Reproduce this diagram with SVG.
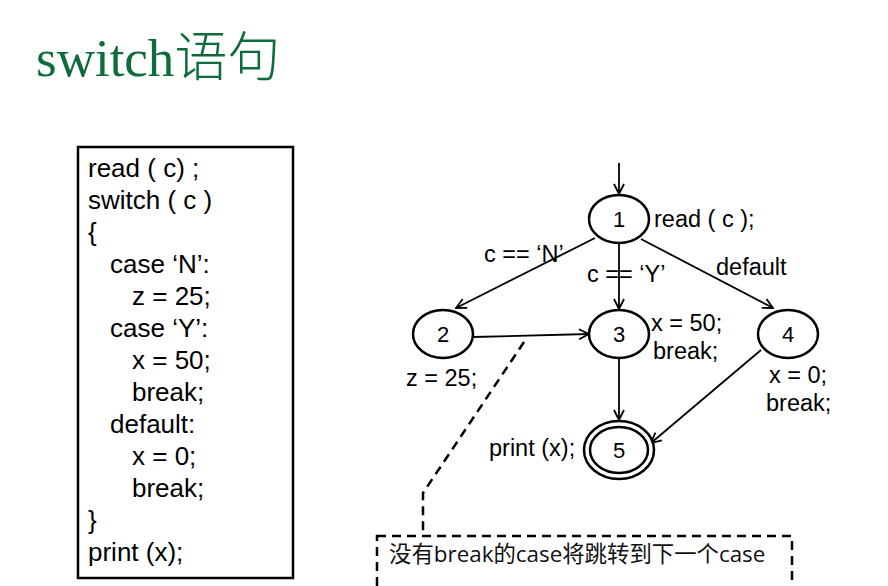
<svg xmlns="http://www.w3.org/2000/svg" width="888" height="586" viewBox="0 0 888 586">
<style>
.code{font-family:"Liberation Sans",Arial,sans-serif;font-size:26px;fill:#000}
.lbl{font-family:"Liberation Sans",Arial,sans-serif;font-size:23.5px;fill:#000}
.num{font-family:"Liberation Sans",Arial,sans-serif;font-size:22px;fill:#000;text-anchor:middle}
.node{fill:#fff;stroke:#000;stroke-width:2.5}
.edge{stroke:#000;stroke-width:1.8;fill:none;marker-end:url(#arr)}
.dash{stroke:#000;stroke-width:2.5;fill:none;stroke-dasharray:9,6}
</style>
<defs>
<marker id="arr" viewBox="0 0 12 12" refX="11" refY="6" markerWidth="12" markerHeight="12" markerUnits="userSpaceOnUse" orient="auto">
<polyline points="1,1 11,6 1,11" fill="none" stroke="#000" stroke-width="1.8"/>
</marker>
</defs>
<rect width="888" height="586" fill="#fff"/>
<text x="36" y="76" font-family="'Liberation Serif','Noto Sans CJK SC',serif" font-size="53" fill="#0E6B3A">switch<tspan font-family="'Noto Sans CJK SC',sans-serif" font-weight="300">语句</tspan></text>

<g id="code">
<rect x="78" y="147" width="215" height="431" fill="#fff" stroke="#000" stroke-width="2.5"/>
<text class="code" x="88" y="177">read ( c) ;</text>
<text class="code" x="88" y="209">switch ( c )</text>
<text class="code" x="88" y="241">{</text>
<text class="code" x="110" y="273">case ‘N’:</text>
<text class="code" x="132" y="305">z = 25;</text>
<text class="code" x="110" y="337">case ‘Y’:</text>
<text class="code" x="132" y="369">x = 50;</text>
<text class="code" x="132" y="401">break;</text>
<text class="code" x="110" y="433">default:</text>
<text class="code" x="132" y="465">x = 0;</text>
<text class="code" x="132" y="497">break;</text>
<text class="code" x="88" y="529">}</text>
<text class="code" x="88" y="561">print (x);</text>
</g>

<g id="connectors">
<line class="edge" x1="619" y1="163" x2="619" y2="194"/>
<line class="edge" x1="595" y1="238" x2="456" y2="308"/>
<line class="edge" x1="619" y1="243" x2="619" y2="309"/>
<line class="edge" x1="641" y1="239" x2="773" y2="308"/>
<line class="edge" x1="473" y1="337" x2="589" y2="334"/>
<line class="edge" x1="619" y1="359" x2="619" y2="420"/>
<line class="edge" x1="761" y1="350" x2="651" y2="443"/>
<text class="lbl" x="484" y="262">c == ‘N’</text>
<text class="lbl" x="587" y="282">c == ‘Y’</text>
<text class="lbl" x="716" y="275">default</text>
</g>

<g id="n1">
<ellipse class="node" cx="619" cy="219" rx="30" ry="24"/>
<text class="num" x="619" y="227">1</text>
<text class="lbl" x="654" y="227">read ( c );</text>
</g>
<g id="n2">
<ellipse class="node" cx="443" cy="334" rx="30" ry="24"/>
<text class="num" x="443" y="342">2</text>
<text class="lbl" x="406" y="386">z = 25;</text>
</g>
<g id="n3">
<ellipse class="node" cx="619" cy="334" rx="30" ry="24"/>
<text class="num" x="619" y="342">3</text>
<text class="lbl" x="651" y="331">x = 50;</text>
<text class="lbl" x="653" y="359">break;</text>
</g>
<g id="n4">
<ellipse class="node" cx="788" cy="334" rx="30" ry="24"/>
<text class="num" x="788" y="342">4</text>
<text class="lbl" x="769" y="383">x = 0;</text>
<text class="lbl" x="766" y="411">break;</text>
</g>
<g id="n5">
<ellipse class="node" cx="619" cy="450" rx="35" ry="29"/>
<ellipse class="node" cx="619" cy="450" rx="29" ry="23"/>
<text class="num" x="619" y="458">5</text>
<text class="lbl" x="489" y="456">print (x);</text>
</g>

<g id="callout">
<polyline class="dash" points="524,342 423,493 423,533"/>
<rect class="dash" x="377" y="536" width="415" height="60" fill="#fff"/>
<text x="389" y="562" font-family="'Open Sans','Noto Sans CJK SC',sans-serif" font-size="22.4" fill="#111">没有break的case将跳转到下一个case</text>
</g>
</svg>
